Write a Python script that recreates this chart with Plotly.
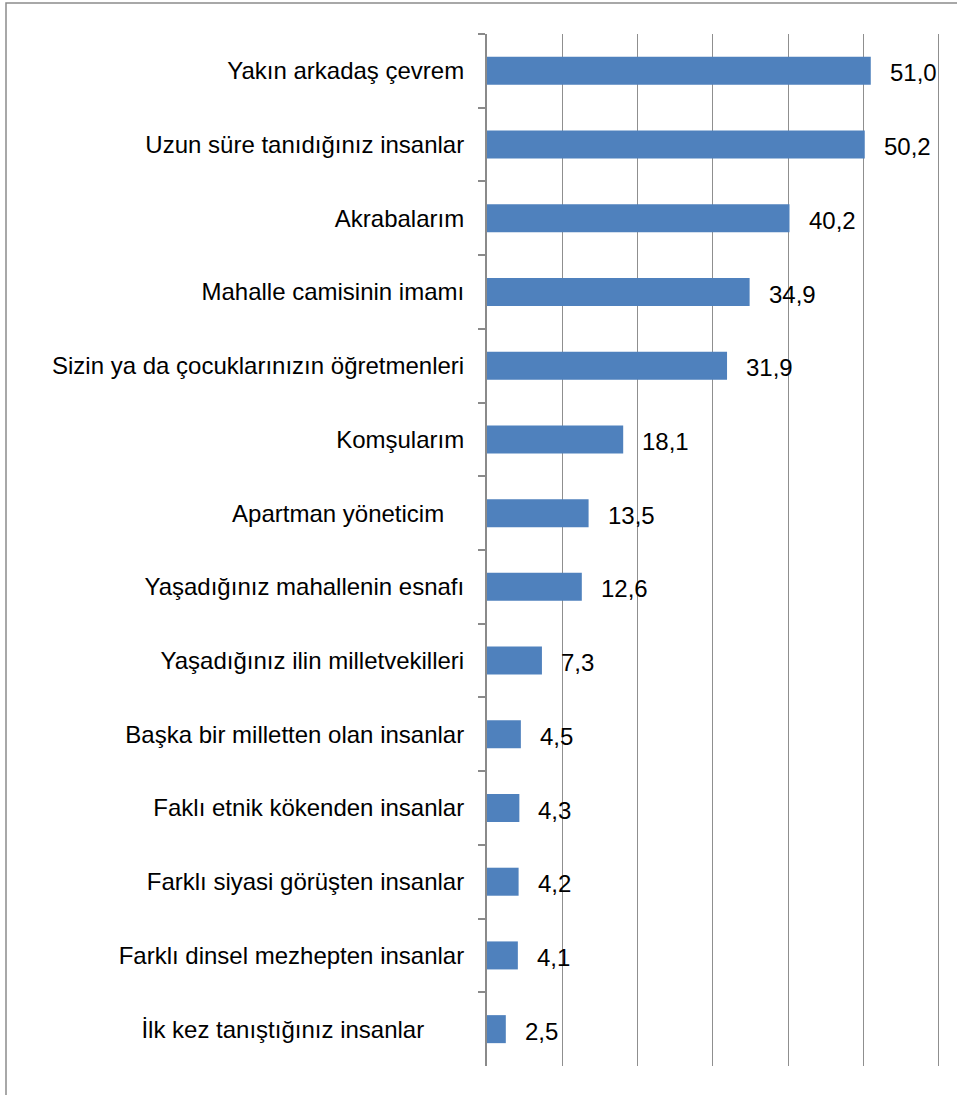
import plotly.graph_objects as go

categories = [
    "Yakın arkadaş çevrem",
    "Uzun süre tanıdığınız insanlar",
    "Akrabalarım",
    "Mahalle camisinin imamı",
    "Sizin ya da çocuklarınızın öğretmenleri",
    "Komşularım",
    "Apartman yöneticim\u00a0\u00a0\u00a0",
    "Yaşadığınız mahallenin esnafı",
    "Yaşadığınız ilin milletvekilleri",
    "Başka bir milletten olan insanlar",
    "Faklı etnik kökenden insanlar",
    "Farklı siyasi görüşten insanlar",
    "Farklı dinsel mezhepten insanlar",
    "İlk kez tanıştığınız insanlar\u00a0\u00a0\u00a0\u00a0\u00a0\u00a0",
]
values = [51.0, 50.2, 40.2, 34.9, 31.9, 18.1, 13.5, 12.6, 7.3, 4.5, 4.3, 4.2, 4.1, 2.5]
value_labels = [f"{v:.1f}".replace(".", ",") for v in values]

FONT = "Liberation Sans, Arial, sans-serif"

fig = go.Figure()
fig.add_trace(go.Bar(
    x=values, y=categories, orientation="h",
    marker=dict(color="#4F81BD", line=dict(width=0)),
    hoverinfo="skip",
))

for c, lab, v in zip(categories, value_labels, values):
    fig.add_annotation(x=v, y=c, text=lab, showarrow=False, xanchor="left",
                       yanchor="middle", xshift=17, yshift=-2,
                       font=dict(family=FONT, size=24, color="#000000"))

W, H = 957, 1095
ml, mr, mt, mb = 487, 17, 34, 29
pw, ph = W - ml - mr, H - mt - mb

# outer chart frame (partially outside picture)
fig.add_shape(type="rect", xref="paper", yref="paper",
              x0=(6 - ml) / pw, x1=(W + 40 - ml) / pw,
              y0=-(40 + mb) / ph, y1=1 + (mt - 3) / ph,
              line=dict(color="#8C8C8C", width=1.5), layer="below")

fig.update_layout(
    width=W, height=H,
    margin=dict(l=ml, r=mr, t=mt, b=mb),
    paper_bgcolor="white", plot_bgcolor="white",
    bargap=0.62, showlegend=False,
    font=dict(family=FONT, size=24, color="#000000"),
    xaxis=dict(range=[0, 60.2], tick0=0, dtick=10, showticklabels=False, showgrid=True,
               gridcolor="#8F8F8F", gridwidth=1, zeroline=False, showline=False,
               fixedrange=True),
    yaxis=dict(autorange="reversed", type="category", showline=True,
               linecolor="#8A8A8A", linewidth=2, ticks="outside",
               tickson="boundaries", ticklen=7, tickcolor="#8A8A8A", tickwidth=2,
               ticklabelstandoff=16, showgrid=False, fixedrange=True,
               tickfont=dict(family=FONT, size=24, color="#000000")),
)

fig.write_html("out.html", config={"displayModeBar": False, "staticPlot": True},
               post_script="document.body.style.margin='0';document.body.style.overflow='hidden';")
